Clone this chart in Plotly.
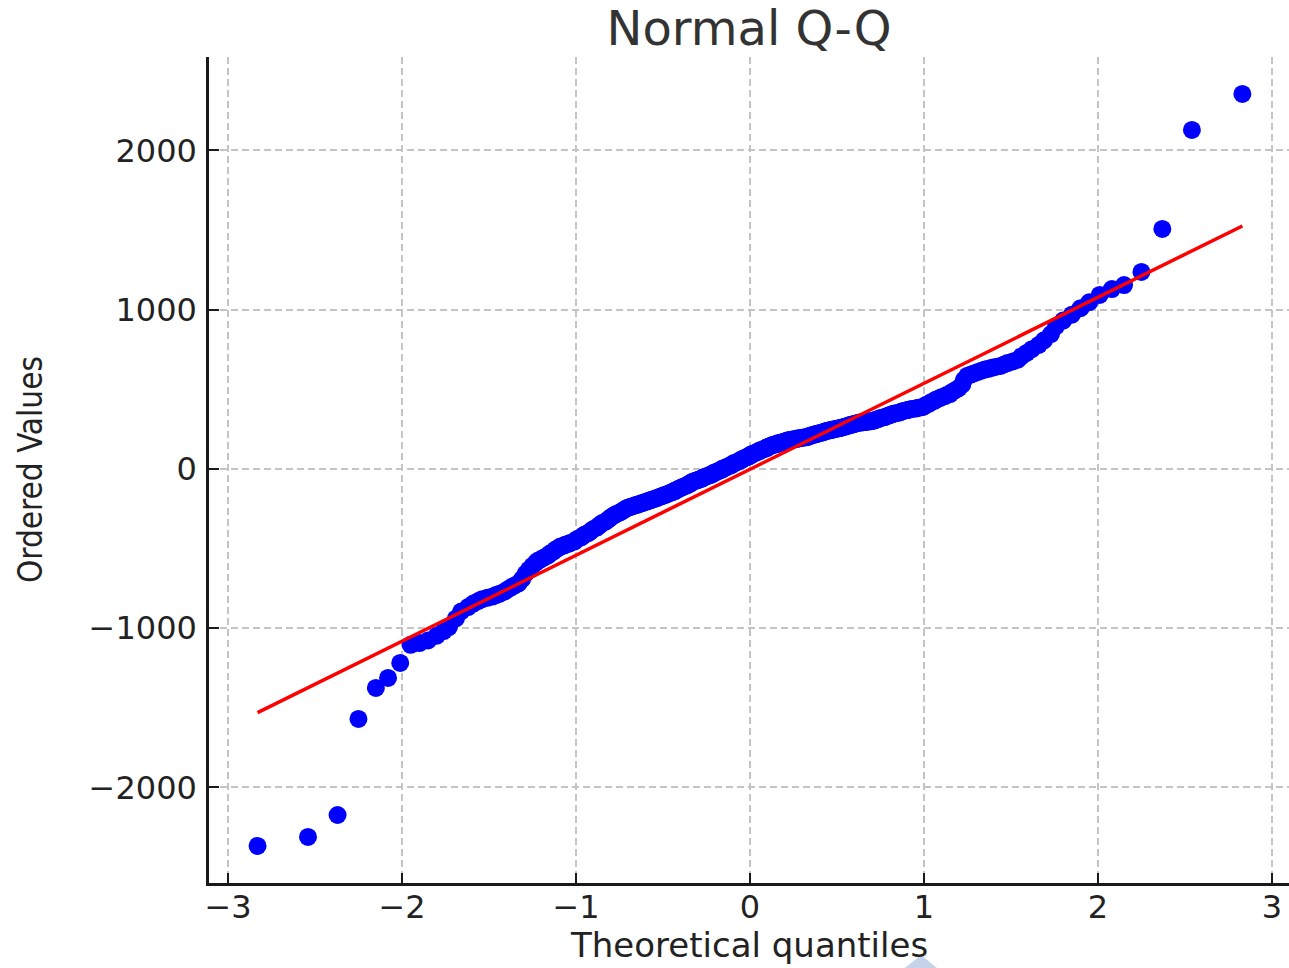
import plotly.graph_objects as go

# Theoretical quantiles (x) and ordered values (y)
theoretical_q = [
    -2.83, -2.54, -2.37, -2.25, -2.15, -2.08, -2.01, -1.95, -1.90, -1.85, -1.80, -1.76, -1.73, -1.69, -1.66, -1.62, -1.59, -1.56, -1.54, -1.51,
    -1.48, -1.46, -1.44, -1.41, -1.39, -1.37, -1.35, -1.33, -1.31, -1.29, -1.27, -1.25, -1.23, -1.22, -1.20, -1.18, -1.16, -1.15, -1.13, -1.12,
    -1.10, -1.09, -1.07, -1.06, -1.04, -1.03, -1.01, -1.00, -0.99, -0.97, -0.96, -0.95, -0.93, -0.92, -0.91, -0.90, -0.88, -0.87, -0.86, -0.85,
    -0.83, -0.82, -0.81, -0.80, -0.79, -0.78, -0.77, -0.75, -0.74, -0.73, -0.72, -0.71, -0.70, -0.69, -0.68, -0.67, -0.66, -0.65, -0.64, -0.63,
    -0.62, -0.61, -0.60, -0.59, -0.58, -0.57, -0.56, -0.55, -0.54, -0.53, -0.52, -0.51, -0.50, -0.49, -0.48, -0.47, -0.46, -0.45, -0.44, -0.43,
    -0.43, -0.42, -0.41, -0.40, -0.39, -0.38, -0.37, -0.36, -0.35, -0.34, -0.34, -0.33, -0.32, -0.31, -0.30, -0.29, -0.28, -0.27, -0.27, -0.26,
    -0.25, -0.24, -0.23, -0.22, -0.21, -0.21, -0.20, -0.19, -0.18, -0.17, -0.16, -0.16, -0.15, -0.14, -0.13, -0.12, -0.11, -0.10, -0.10, -0.09,
    -0.08, -0.07, -0.06, -0.05, -0.05, -0.04, -0.03, -0.02, -0.01, 0.00, 0.00, 0.01, 0.02, 0.03, 0.04, 0.05, 0.05, 0.06, 0.07, 0.08,
    0.09, 0.10, 0.10, 0.11, 0.12, 0.13, 0.14, 0.15, 0.16, 0.16, 0.17, 0.18, 0.19, 0.20, 0.21, 0.21, 0.22, 0.23, 0.24, 0.25,
    0.26, 0.27, 0.27, 0.28, 0.29, 0.30, 0.31, 0.32, 0.33, 0.34, 0.34, 0.35, 0.36, 0.37, 0.38, 0.39, 0.40, 0.41, 0.42, 0.43,
    0.43, 0.44, 0.45, 0.46, 0.47, 0.48, 0.49, 0.50, 0.51, 0.52, 0.53, 0.54, 0.55, 0.56, 0.57, 0.58, 0.59, 0.60, 0.61, 0.62,
    0.63, 0.64, 0.65, 0.66, 0.67, 0.68, 0.69, 0.70, 0.71, 0.72, 0.73, 0.74, 0.75, 0.77, 0.78, 0.79, 0.80, 0.81, 0.82, 0.83,
    0.85, 0.86, 0.87, 0.88, 0.90, 0.91, 0.92, 0.93, 0.95, 0.96, 0.97, 0.99, 1.00, 1.01, 1.03, 1.04, 1.06, 1.07, 1.09, 1.10,
    1.12, 1.13, 1.15, 1.16, 1.18, 1.20, 1.22, 1.23, 1.25, 1.27, 1.29, 1.31, 1.33, 1.35, 1.37, 1.39, 1.41, 1.44, 1.46, 1.48,
    1.51, 1.54, 1.56, 1.59, 1.62, 1.66, 1.69, 1.73, 1.76, 1.80, 1.85, 1.90, 1.95, 2.01, 2.08, 2.15, 2.25, 2.37, 2.54, 2.83,
]

ordered_values = [
    -2367, -2311, -2173, -1570, -1375, -1312, -1218, -1104, -1093, -1077, -1047, -1018, -993, -939, -895, -867, -845, -829, -818, -809,
    -801, -792, -784, -769, -755, -742, -730, -719, -692, -658, -632, -609, -588, -577, -566, -554, -543, -531, -519, -508,
    -496, -487, -481, -475, -469, -463, -456, -447, -438, -429, -420, -412, -403, -395, -386, -377, -368, -358, -349, -340,
    -331, -322, -313, -304, -297, -290, -283, -275, -268, -261, -254, -247, -243, -239, -235, -232, -228, -225, -221, -218,
    -214, -210, -207, -203, -199, -195, -191, -188, -184, -180, -176, -172, -168, -164, -160, -155, -151, -147, -143, -139,
    -135, -130, -125, -120, -115, -110, -106, -101, -96, -91, -86, -81, -77, -73, -70, -66, -62, -58, -54, -50,
    -46, -42, -38, -34, -30, -25, -21, -17, -12, -8, -4, 1, 5, 9, 14, 19, 23, 28, 32, 37,
    41, 46, 51, 55, 60, 64, 69, 73, 78, 82, 87, 92, 96, 101, 105, 109, 113, 117, 121, 125,
    129, 133, 137, 141, 146, 150, 153, 155, 158, 161, 163, 166, 169, 172, 174, 177, 180, 182, 184, 186,
    187, 189, 191, 192, 194, 196, 197, 199, 201, 204, 207, 210, 213, 216, 219, 222, 225, 228, 231, 234,
    236, 239, 241, 243, 246, 248, 251, 253, 255, 258, 261, 264, 267, 270, 274, 277, 280, 283, 286, 289,
    291, 292, 293, 295, 296, 298, 299, 300, 303, 307, 311, 315, 320, 324, 328, 333, 337, 341, 345, 349,
    352, 356, 360, 364, 368, 372, 374, 377, 379, 382, 385, 388, 393, 401, 410, 419, 428, 437, 444, 451,
    457, 464, 470, 482, 495, 508, 529, 560, 586, 593, 601, 609, 617, 624, 629, 635, 641, 647, 656, 665,
    675, 686, 707, 729, 752, 779, 808, 847, 897, 932, 969, 1010, 1047, 1093, 1130, 1155, 1237, 1507, 2129, 2355,
]

# Fitted reference line endpoints
fit_x = [-2.83, 2.83]
fit_y = [-1530, 1526]

x_ticks = [-3, -2, -1, 0, 1, 2, 3]
x_tick_labels = ["\u22123", "\u22122", "\u22121", "0", "1", "2", "3"]
y_ticks = [-2000, -1000, 0, 1000, 2000]
y_tick_labels = ["\u22122000", "\u22121000", "0", "1000", "2000"]

FONT = "DejaVu Sans"

fig = go.Figure()
fig.add_trace(go.Scatter(
    x=theoretical_q, y=ordered_values, mode="markers",
    marker=dict(color="#0000ff", size=18, line=dict(width=0)),
    showlegend=False, hoverinfo="x+y",
))
fig.add_trace(go.Scatter(
    x=fit_x, y=fit_y, mode="lines",
    line=dict(color="#ff0000", width=3.5),
    showlegend=False,
))

axis_common = dict(
    showgrid=True, gridcolor="#c4c4c4", gridwidth=1.6, griddash="7px,4px",
    zeroline=False, showline=True, linecolor="#1a1a1a", linewidth=2.5,
    ticks="inside", ticklen=10, tickwidth=2, tickcolor="#1a1a1a",
    tickfont=dict(family=FONT, size=32, color="#222222"),
    mirror=False,
)

fig.update_xaxes(range=[-3.109, 3.098], tickmode="array", tickvals=x_ticks,
                 ticktext=x_tick_labels, ticklabelstandoff=-6, **axis_common)
fig.update_yaxes(range=[-2600, 2587], tickmode="array", tickvals=y_ticks,
                 ticktext=y_tick_labels, ticklabelstandoff=3, **axis_common)

fig.update_layout(
    width=1289, height=968,
    margin=dict(l=209, r=0, t=57, b=85),
    paper_bgcolor="white", plot_bgcolor="white",
    title=dict(text="Normal Q-Q", x=0.5, xref="paper", xanchor="center",
               y=1 - 28 / 968, yref="container", yanchor="middle",
               font=dict(family=FONT, size=48, color="#333333")),
    annotations=[
        dict(text="Theoretical quantiles", xref="paper", yref="paper",
             x=0.5, y=(883 - 945) / 826, xanchor="center", yanchor="middle",
             showarrow=False, font=dict(family=FONT, size=34, color="#222222")),
        dict(text="Ordered Values", xref="paper", yref="paper",
             x=(30 - 209) / 1080, y=0.5, xanchor="center", yanchor="middle",
             textangle=-90, showarrow=False,
             font=dict(family="DejaVu Sans Condensed, DejaVu Sans", size=33, color="#222222")),
    ],
    shapes=[
        dict(type="path", xref="paper", yref="paper",
             path="M %f %f L %f %f L %f %f Z" % (
                 (905 - 209) / 1080, (883 - 968) / 826,
                 (921 - 209) / 1080, (883 - 955) / 826,
                 (937 - 209) / 1080, (883 - 968) / 826),
             fillcolor="#c5d3ea", line=dict(width=0), layer="above"),
    ],
)

fig.write_html("out.html")
